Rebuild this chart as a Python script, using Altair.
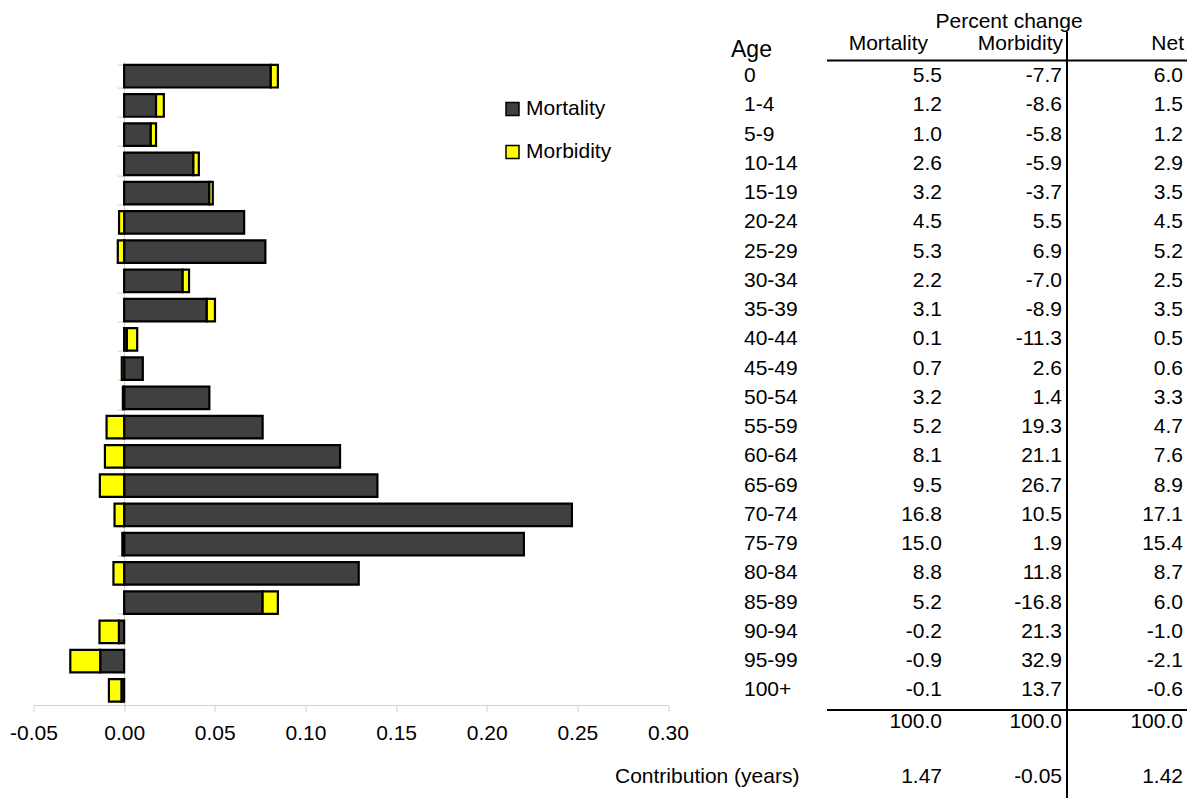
import altair as alt
import pandas as pd

# ---------------- data ----------------
ages = ["0", "1-4", "5-9", "10-14", "15-19", "20-24", "25-29", "30-34", "35-39",
        "40-44", "45-49", "50-54", "55-59", "60-64", "65-69", "70-74", "75-79",
        "80-84", "85-89", "90-94", "95-99", "100+"]

# contribution (years)
mortality_contrib = [0.0809, 0.0176, 0.0147, 0.0382, 0.0470, 0.0662, 0.0779, 0.0323,
                     0.0456, 0.0015, 0.0103, 0.0470, 0.0764, 0.1191, 0.1397, 0.2470,
                     0.2205, 0.1294, 0.0764, -0.0029, -0.0132, -0.0015]
morbidity_contrib = [0.0039, 0.0043, 0.0029, 0.0030, 0.0019, -0.0028, -0.0035, 0.0035,
                     0.0045, 0.0057, -0.0013, -0.0007, -0.0097, -0.0106, -0.0134, -0.0053,
                     -0.0010, -0.0059, 0.0084, -0.0107, -0.0165, -0.0069]

# percent change table
mortality_pct = [5.5, 1.2, 1.0, 2.6, 3.2, 4.5, 5.3, 2.2, 3.1, 0.1, 0.7, 3.2, 5.2, 8.1,
                 9.5, 16.8, 15.0, 8.8, 5.2, -0.2, -0.9, -0.1]
morbidity_pct = [-7.7, -8.6, -5.8, -5.9, -3.7, 5.5, 6.9, -7.0, -8.9, -11.3, 2.6, 1.4,
                 19.3, 21.1, 26.7, 10.5, 1.9, 11.8, -16.8, 21.3, 32.9, 13.7]
net_pct = [6.0, 1.5, 1.2, 2.9, 3.5, 4.5, 5.2, 2.5, 3.5, 0.5, 0.6, 3.3, 4.7, 7.6, 8.9,
           17.1, 15.4, 8.7, 6.0, -1.0, -2.1, -0.6]

total_pct = [100.0, 100.0, 100.0]
total_years = [1.47, -0.05, 1.42]

components = ["Mortality", "Morbidity"]
column_headers = ["Mortality", "Morbidity", "Net"]
x_ticks = [-0.05, 0.0, 0.05, 0.10, 0.15, 0.20, 0.25, 0.30]

# ---------------- tables ----------------
bar_df = pd.DataFrame({
    "age": ages * 2,
    "component": [components[0]] * len(ages) + [components[1]] * len(ages),
    "value": mortality_contrib + morbidity_contrib,
    "ord": [0] * len(ages) + [1] * len(ages),
})
tab_df = pd.DataFrame({"age": ages, "Mortality": mortality_pct,
                       "Morbidity": morbidity_pct, "Net": net_pct})

# ---------------- layout (plot coords) ----------------
FONT = "Liberation Sans"
FS = 21
OX, OY = 33.5, 61.6          # page position of plot origin
W, H = 634.5, 643.4
col_right = [942 - OX, 1062 - OX, 1183 - OX]
head_right = [928 - OX, 1063 - OX, 1184 - OX]

y_enc = alt.Y("age:N", sort=ages, title=None,
              scale=alt.Scale(paddingInner=0.23, paddingOuter=0.115),
              axis=alt.Axis(labels=False, ticks=True, tickBand="extent", tickSize=7,
                            tickColor="#d0d0d0", domainColor="#d0d0d0", offset=-90.5,
                            grid=False, title=None))

bars = alt.Chart(bar_df).mark_bar(stroke="black", strokeWidth=2.2).encode(
    x=alt.X("value:Q", stack="zero", title=None,
            scale=alt.Scale(domain=[-0.05, 0.30], nice=False, zero=False),
            axis=alt.Axis(values=x_ticks, format=".2f", labelFontSize=21,
                          labelColor="black", tickSize=7, tickColor="#d0d0d0",
                          domainColor="#d0d0d0", labelPadding=10, grid=False,
                          labelFlush=False, labelOverlap=False, labelFont=FONT)),
    y=y_enc,
    color=alt.Color("component:N",
                    scale=alt.Scale(domain=components, range=["#404040", "#ffff00"]),
                    legend=alt.Legend(title=None, orient="none", legendX=468.5, legendY=37,
                                      symbolType="square", symbolSize=169,
                                      symbolStrokeColor="black", symbolStrokeWidth=1.5,
                                      labelFontSize=FS, labelColor="black", labelOffset=3,
                                      rowPadding=21, padding=0, labelFont=FONT)),
    order=alt.Order("ord:Q"),
)

layers = [bars]

# age labels
layers.append(alt.Chart(tab_df).mark_text(align="left", baseline="middle", fontSize=FS,
                                          color="black", font=FONT).encode(
    x=alt.value(744 - OX), y=y_enc, text="age:N"))

# value columns
for i, col in enumerate(column_headers):
    layers.append(alt.Chart(tab_df).mark_text(align="right", baseline="middle", fontSize=FS,
                                              color="black", font=FONT).encode(
        x=alt.value(col_right[i]), y=y_enc, text=alt.Text(f"{col}:Q", format=".1f")))


def label(txt, x, y, align, size=FS):
    return alt.Chart(pd.DataFrame({"t": [txt]})).mark_text(
        align=align, baseline="middle", fontSize=size, color="black", font=FONT).encode(
        x=alt.value(x), y=alt.value(y), text="t:N")


layers.append(label("Percent change", 1009 - OX, 21.5 - OY, "center", 21))
layers.append(label("Age", 731 - OX, 50 - OY, "left", 23))
for i, h in enumerate(column_headers):
    layers.append(label(h, head_right[i], 44 - OY, "right", FS))
layers.append(label("Contribution (years)", 615 - OX, 777 - OY, "left", FS))

# totals
for i in range(3):
    layers.append(alt.Chart(pd.DataFrame({"v": [total_pct[i]]})).mark_text(
        align="right", baseline="middle", fontSize=FS, color="black", font=FONT).encode(
        x=alt.value(col_right[i]), y=alt.value(722 - OY), text=alt.Text("v:Q", format=".1f")))
    layers.append(alt.Chart(pd.DataFrame({"v": [total_years[i]]})).mark_text(
        align="right", baseline="middle", fontSize=FS, color="black", font=FONT).encode(
        x=alt.value(col_right[i]), y=alt.value(777 - OY), text=alt.Text("v:Q", format=".2f")))

# table rules
one = pd.DataFrame({"k": [0]})
layers.append(alt.Chart(one).mark_rule(color="black", strokeWidth=2).encode(
    x=alt.value(827 - OX), x2=alt.value(1187 - OX), y=alt.value(60.5 - OY)))
layers.append(alt.Chart(one).mark_rule(color="black", strokeWidth=2).encode(
    x=alt.value(827 - OX), x2=alt.value(1187 - OX), y=alt.value(710 - OY)))
layers.append(alt.Chart(one).mark_rule(color="black", strokeWidth=2).encode(
    x=alt.value(1067 - OX), y=alt.value(32 - OY), y2=alt.value(798 - OY)))

chart = alt.layer(*layers).properties(
    width=W, height=H,
    autosize=alt.AutoSizeParams(type="none"),
    padding={"left": OX - 8, "top": OY - 8, "right": 1184 - (OX - 8) - W, "bottom": 793 - (OY - 8) - H},
).configure(
    font=FONT,
    locale={"number": {"decimal": ".", "thousands": ",", "grouping": [3],
                       "currency": ["$", ""], "minus": "-"}},
).configure_view(stroke=None)

chart.save("out.html", embed_options={"renderer": "svg", "actions": False})
